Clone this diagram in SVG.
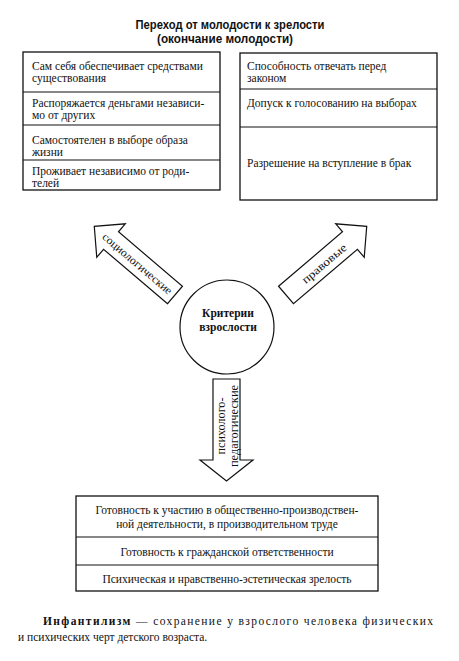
<svg xmlns="http://www.w3.org/2000/svg" width="459" height="661" viewBox="0 0 459 661">
<style>
.box{fill:#fff;stroke:#111;stroke-width:1.3}
.div{stroke:#111;stroke-width:1.2}
.t{font-family:"Liberation Serif","Times New Roman",serif;font-size:11.5px;fill:#111}
.c{text-anchor:middle}
.title{font-family:"Liberation Sans Narrow","Liberation Sans",Arial,sans-serif;font-weight:bold;font-size:12.5px;fill:#111;text-anchor:middle}
.arrow{fill:#fff;stroke:#111;stroke-width:1.2;stroke-linejoin:miter}
.b{font-weight:bold}
</style>
<rect width="459" height="661" fill="#fff"/>
<g id="title">
<text class="title" x="230" y="29" textLength="189" lengthAdjust="spacingAndGlyphs">Переход от молодости к зрелости</text>
<text class="title" x="225" y="43" textLength="136" lengthAdjust="spacingAndGlyphs">(окончание молодости)</text>
</g>
<g id="sociological-box">
<rect class="box" x="23" y="52" width="197" height="138"/>
<line class="div" x1="23" y1="92" x2="220" y2="92"/>
<line class="div" x1="23" y1="125" x2="220" y2="125"/>
<line class="div" x1="23" y1="160" x2="220" y2="160"/>
<text class="t" x="32" y="69.5">Сам себя обеспечивает средствами</text>
<text class="t" x="32" y="82">существования</text>
<text class="t" x="32" y="106.5">Распоряжается деньгами независи-</text>
<text class="t" x="32" y="119">мо от других</text>
<text class="t" x="32" y="143.5">Самостоятелен в выборе образа</text>
<text class="t" x="32" y="156">жизни</text>
<text class="t" x="32" y="174.5">Проживает независимо от роди-</text>
<text class="t" x="32" y="187">телей</text>
</g>
<g id="legal-box">
<rect class="box" x="240" y="53" width="197" height="147"/>
<line class="div" x1="240" y1="89" x2="437" y2="89"/>
<line class="div" x1="240" y1="127" x2="437" y2="127"/>
<text class="t" x="247" y="69.5">Способность отвечать перед</text>
<text class="t" x="247" y="82">законом</text>
<text class="t" x="247" y="107">Допуск к голосованию на выборах</text>
<text class="t" x="247" y="167">Разрешение на вступление в брак</text>
</g>
<g id="center">
<circle cx="227" cy="327" r="47" fill="#fff" stroke="#111" stroke-width="1.2"/>
<text class="t c b" x="228" y="317" font-size="11.5">Критерии</text>
<text class="t c b" x="228" y="331" font-size="11.5">взрослости</text>
</g>
<g id="psych-box">
<rect class="box" x="76" y="496" width="302" height="95"/>
<line class="div" x1="76" y1="537" x2="378" y2="537"/>
<line class="div" x1="76" y1="565" x2="378" y2="565"/>
<text class="t c" x="227" y="514" font-size="12.5">Готовность к участию в общественно-производствен-</text>
<text class="t c" x="227" y="528" font-size="12.5">ной деятельности, в производительном труде</text>
<text class="t c" x="227" y="556" font-size="12.5">Готовность к гражданской ответственности</text>
<text class="t c" x="227" y="583" font-size="12.5">Психическая и нравственно-эстетическая зрелость</text>
</g>
<g id="connectors">
<g id="arrow-sociological">
<polygon class="arrow" transform="translate(175,295) rotate(-139.6)" points="0,-11.5 84,-11.5 84,-22 106,0 84,22 84,11.5 0,11.5"/>
<text class="t c" transform="translate(137.5,263.5) rotate(40.4)" y="4" font-size="12" textLength="88" lengthAdjust="spacingAndGlyphs">социологические</text>
</g>
<g id="arrow-legal">
<polygon class="arrow" transform="translate(286,295) rotate(-40.4)" points="0,-11.5 84,-11.5 84,-22 106,0 84,22 84,11.5 0,11.5"/>
<text class="t c" transform="translate(324,263.5) rotate(-40.4)" y="4" font-size="12" textLength="55" lengthAdjust="spacingAndGlyphs">правовые</text>
</g>
<g id="arrow-psych">
<polygon class="arrow" points="213,379 240,379 240,460 253,460 226.5,481 200,460 213,460"/>
<text class="t c" transform="translate(225,426) rotate(-90)" textLength="57" lengthAdjust="spacingAndGlyphs">психолого-</text>
<text class="t c" transform="translate(238,426) rotate(-90)" textLength="82" lengthAdjust="spacingAndGlyphs">педагогические</text>
</g>
</g>
<g id="definition">
<text class="t" x="43" y="625" font-size="14" textLength="390" lengthAdjust="spacing"><tspan class="b">Инфантилизм</tspan> — сохранение у взрослого человека физических</text>
<text class="t" x="18" y="641" font-size="14">и психических черт детского возраста.</text>
</g>
</svg>
